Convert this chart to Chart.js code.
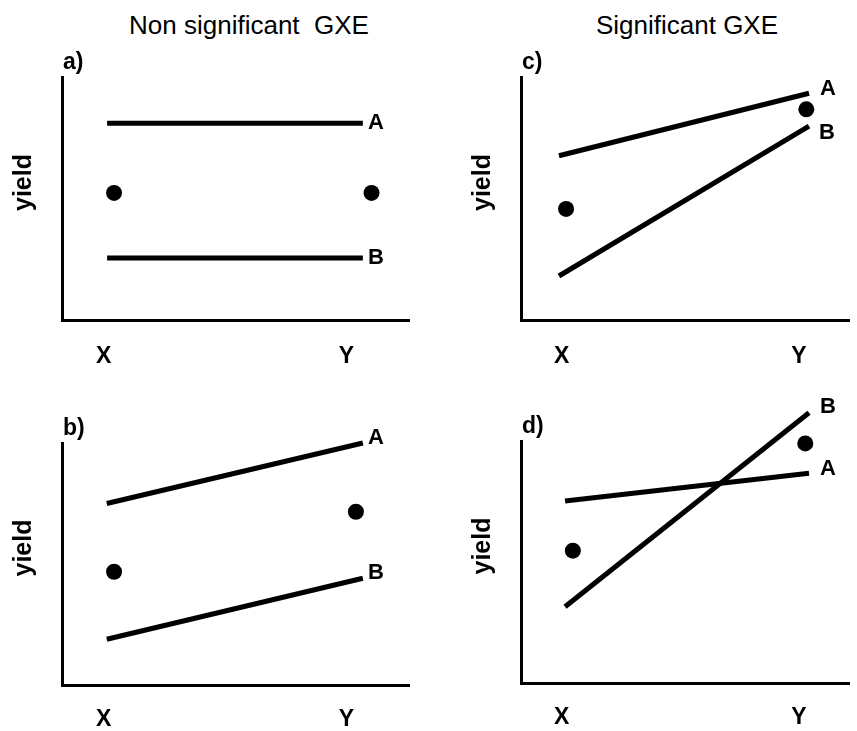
<!DOCTYPE html>
<html>
<head>
<meta charset="utf-8">
<script src="https://cdn.jsdelivr.net/npm/chart.js@4.4.1/dist/chart.umd.min.js"></script>
<style>
  html, body { margin: 0; padding: 0; background: #fff; width: 857px; height: 731px; overflow: hidden; }
  .panel { position: absolute; }
  .head {
    position: absolute; top: 10px; line-height: 30px;
    font: 26px "Liberation Sans", Arial, sans-serif; color: #000;
    white-space: pre; transform: translateX(-50%);
  }
</style>
</head>
<body>
<div class="head" style="left:249px">Non significant  GXE</div>
<div class="head" style="left:687px">Significant GXE</div>

<div class="panel" style="left:0;top:0;width:430px;height:370px"><canvas id="pa"></canvas></div>
<div class="panel" style="left:0;top:370px;width:430px;height:361px"><canvas id="pb"></canvas></div>
<div class="panel" style="left:440px;top:0;width:417px;height:370px"><canvas id="pc"></canvas></div>
<div class="panel" style="left:440px;top:370px;width:417px;height:361px"><canvas id="pd"></canvas></div>

<script>
// Environments on the x axis
const envLabels = ['X', 'Y'];
const envTickAt = [12, 82];

// a) parallel genotypes, no interaction
const aLineX = [13, 86.7];
const aGenoA = [81, 81];
const aGenoB = [25.5, 25.5];
const aMeanX = [15, 89.2];
const aMean  = [52.3, 52.3];

// b) parallel rising genotypes, no interaction
const bLineX = [12.9, 86.7];
const bGenoA = [75, 100];
const bGenoB = [18.9, 44.1];
const bMeanX = [15, 84.7];
const bMean  = [46.8, 71.6];

// c) non-parallel, no crossover
const cLineX = [11.2, 85];
const cGenoA = [67.6, 93.3];
const cGenoB = [18.1, 79.8];
const cMeanX = [13.3, 84.2];
const cMean  = [45.7, 86.7];

// d) crossover interaction
const dLineX = [13, 85];
const dGenoA = [75.2, 86.7];
const dGenoB = [31.5, 111.7];
const dMeanX = [15.3, 83.9];
const dMean  = [54.7, 99];

const FONT = '"Liberation Sans", Arial, Helvetica, sans-serif';

// Draws the genotype names at the line ends, the panel letter and the y caption
const panelText = {
  id: 'panelText',
  afterDraw(chart) {
    const ctx = chart.ctx;
    const cfg = chart.options.plugins.panelText;
    const area = chart.chartArea;
    ctx.save();
    ctx.fillStyle = '#000';

    ctx.font = 'bold 22px ' + FONT;
    ctx.textAlign = 'center';
    ctx.textBaseline = 'middle';
    chart.data.datasets.forEach((ds, i) => {
      if (!ds.tag) return;
      const pts = chart.getDatasetMeta(i).data;
      const last = pts[pts.length - 1];
      const off = cfg.tagOffset[ds.tag];
      ctx.fillText(ds.tag, last.x + off[0], last.y + off[1]);
    });

    ctx.font = 'bold 23px ' + FONT;
    ctx.textAlign = 'left';
    ctx.fillText(cfg.letter, area.left + 1, area.top - 14);

    ctx.font = 'bold 25px ' + FONT;
    ctx.translate(area.left - 37.5, (area.top + area.bottom) / 2 - 16);
    ctx.rotate(-Math.PI / 2);
    ctx.textAlign = 'center';
    ctx.fillText('yield', 0, 0);
    ctx.restore();
  }
};

function pairs(xs, ys) { return xs.map((x, i) => ({ x: x, y: ys[i] })); }

function makePanel(p) {
  const lineStyle = { showLine: true, borderColor: '#000', borderWidth: 5, borderCapStyle: 'butt',
                      pointRadius: 0, pointHoverRadius: 0, clip: false, fill: false };
  new Chart(document.getElementById(p.id), {
    type: 'scatter',
    data: {
      datasets: [
        Object.assign({ label: 'A', tag: 'A', data: pairs(p.lineX, p.A) }, lineStyle),
        Object.assign({ label: 'B', tag: 'B', data: pairs(p.lineX, p.B) }, lineStyle),
        { label: 'mean', data: pairs(p.meanX, p.mean), showLine: false, pointRadius: 8,
          pointHoverRadius: 8, backgroundColor: '#000', borderWidth: 0, clip: false }
      ]
    },
    options: {
      responsive: true, maintainAspectRatio: false, animation: false, events: [],
      layout: { padding: p.pad },
      plugins: {
        legend: { display: false }, tooltip: { enabled: false },
        panelText: { letter: p.letter, tagOffset: p.tagOffset }
      },
      scales: {
        x: {
          type: 'linear', min: 0, max: p.xMax,
          grid: { display: false, drawTicks: false, tickLength: 0 },
          border: { display: true, color: '#000', width: 3 },
          afterBuildTicks: s => { s.ticks = envTickAt.map(v => ({ value: v })); },
          afterFit: s => { s.height = p.xHeight; },
          ticks: {
            autoSkip: false, maxRotation: 0, padding: p.tickPad, color: '#000',
            font: { family: FONT, size: 23, weight: 'bold' },
            callback: (v, i) => envLabels[i]
          }
        },
        y: {
          type: 'linear', min: 0, max: 100,
          grid: { display: false, drawTicks: false, tickLength: 0 },
          border: { display: true, color: '#000', width: 3 },
          ticks: { display: false },
          afterFit: s => { s.width = p.yWidth; }
        }
      }
    },
    plugins: [panelText]
  });
}

makePanel({ id: 'pa', letter: 'a)', lineX: aLineX, A: aGenoA, B: aGenoB, meanX: aMeanX, mean: aMean,
  xMax: 100, pad: { top: 77, right: 21, bottom: 0, left: 0 }, yWidth: 62, xHeight: 50, tickPad: 23,
  tagOffset: { A: [13, 0], B: [13, 0] } });
makePanel({ id: 'pb', letter: 'b)', lineX: bLineX, A: bGenoA, B: bGenoB, meanX: bMeanX, mean: bMean,
  xMax: 100, pad: { top: 73, right: 21, bottom: 0, left: 0 }, yWidth: 62, xHeight: 46, tickPad: 21,
  tagOffset: { A: [13, -5], B: [13, -5] } });
makePanel({ id: 'pc', letter: 'c)', lineX: cLineX, A: cGenoA, B: cGenoB, meanX: cMeanX, mean: cMean,
  xMax: 96.8, pad: { top: 77, right: 0, bottom: 0, left: 0 }, yWidth: 81, xHeight: 50, tickPad: 23,
  tagOffset: { A: [19, -4], B: [18, 7] } });
makePanel({ id: 'pd', letter: 'd)', lineX: dLineX, A: dGenoA, B: dGenoB, meanX: dMeanX, mean: dMean,
  xMax: 96.8, pad: { top: 71, right: 0, bottom: 0, left: 0 }, yWidth: 81, xHeight: 48, tickPad: 21,
  tagOffset: { A: [19, -4], B: [19, -6] } });
</script>
</body>
</html>
